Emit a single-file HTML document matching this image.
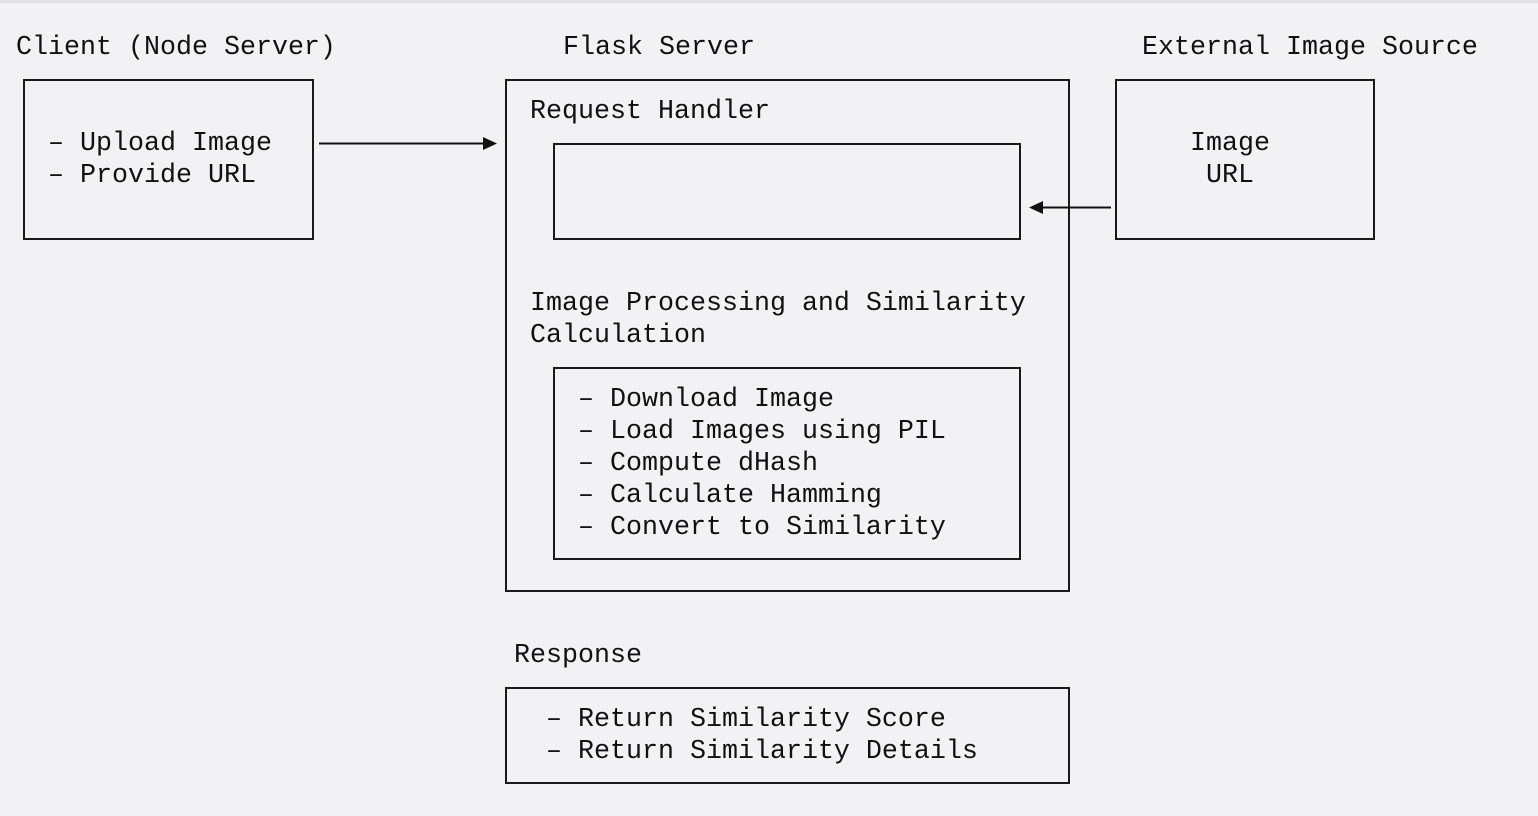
<!DOCTYPE html>
<html><head><meta charset="utf-8"><style>
html,body{margin:0;padding:0;}
body{width:1538px;height:816px;background:#f2f2f4;position:relative;overflow:hidden;font-family:"Liberation Mono",monospace;font-size:26.67px;color:#111;}
.top{position:absolute;left:0;top:0;width:1538px;height:3px;background:#e2e2e5;}
.t{position:absolute;line-height:32px;white-space:pre;}
.b{position:absolute;border:2px solid #1a1a1a;box-sizing:border-box;}
</style></head><body>
<div class="top"></div>
<div class="t" style="left:16px;top:32px">Client (Node Server)</div>
<div class="t" style="left:563px;top:32px">Flask Server</div>
<div class="t" style="left:1142px;top:32px">External Image Source</div>

<div class="b" style="left:23px;top:79px;width:291px;height:161px"></div>
<div class="t" style="left:48px;top:128px">– Upload Image
– Provide URL</div>

<div class="b" style="left:505px;top:79px;width:565px;height:513px"></div>
<div class="t" style="left:530px;top:96px">Request Handler</div>
<div class="b" style="left:553px;top:143px;width:468px;height:97px"></div>
<div class="t" style="left:530px;top:288px">Image Processing and Similarity
Calculation</div>
<div class="b" style="left:553px;top:367px;width:468px;height:193px"></div>
<div class="t" style="left:578px;top:384px">– Download Image
– Load Images using PIL
– Compute dHash
– Calculate Hamming
– Convert to Similarity</div>

<div class="b" style="left:1115px;top:79px;width:260px;height:161px"></div>
<div class="t" style="left:1190px;top:128px">Image
 URL</div>

<div class="t" style="left:514px;top:640px">Response</div>
<div class="b" style="left:505px;top:687px;width:565px;height:97px"></div>
<div class="t" style="left:546px;top:704px">– Return Similarity Score
– Return Similarity Details</div>

<svg style="position:absolute;left:0;top:0" width="1538" height="816">
<line x1="319" y1="143.5" x2="485" y2="143.5" stroke="#111" stroke-width="2"/>
<polygon points="497,143.5 483,137 483,150" fill="#111"/>
<line x1="1111" y1="207.5" x2="1042" y2="207.5" stroke="#111" stroke-width="2"/>
<polygon points="1029,207.5 1043,201 1043,214" fill="#111"/>
</svg>
</body></html>
